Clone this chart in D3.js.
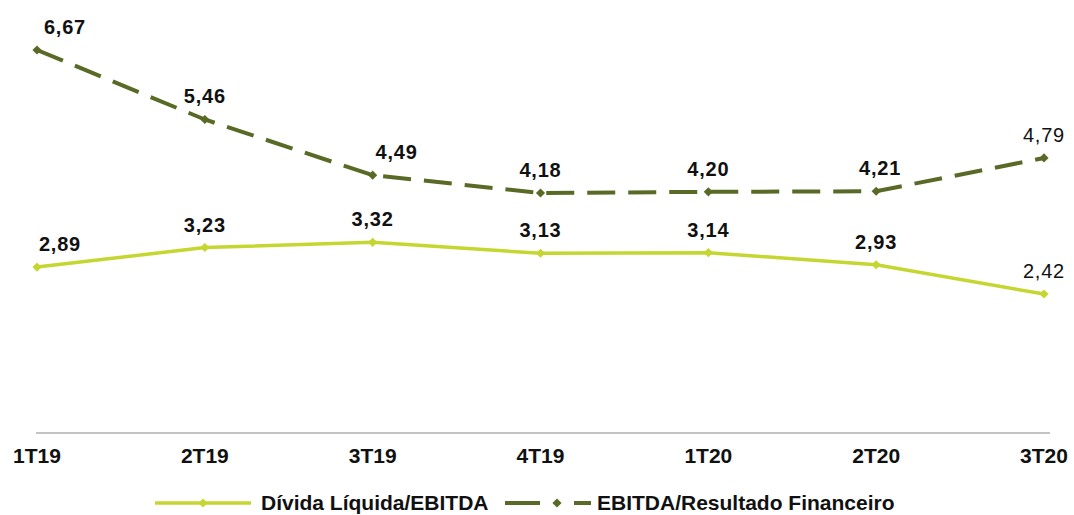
<!DOCTYPE html>
<html>
<head>
<meta charset="utf-8">
<script src="https://cdn.jsdelivr.net/npm/d3@7"></script>
<style>
  body { margin: 0; background: #fff; }
  svg { display: block; font-family: "Liberation Sans", Arial, sans-serif; }
</style>
</head>
<body>
<div id="chart"></div>
<script>
// data
var quarters = ["1T19", "2T19", "3T19", "4T19", "1T20", "2T20", "3T20"];
var dividaEbitda = [2.89, 3.23, 3.32, 3.13, 3.14, 2.93, 2.42];
var ebitdaResultado = [6.67, 5.46, 4.49, 4.18, 4.20, 4.21, 4.79];
var seriesNames = ["Dívida Líquida/EBITDA", "EBITDA/Resultado Financeiro"];

var width = 1074, height = 515;
var lightColor = "#c5d631", darkColor = "#596a26";

var svg = d3.select("#chart").append("svg")
    .attr("width", width)
    .attr("height", height);

var x = d3.scalePoint().domain(quarters).range([37, 1044]);
var y = d3.scaleLinear().domain([0, 6.67]).range([433, 50]);

var diamond = d3.symbol().type(d3.symbolSquare).size(42);

// axis line
svg.append("line")
    .attr("x1", 36).attr("x2", 1050)
    .attr("y1", y(0)).attr("y2", y(0))
    .attr("stroke", "#888").attr("stroke-width", 1.2);

// x labels
svg.append("g").selectAll("text").data(quarters).enter().append("text")
    .attr("x", function(d) { return x(d); })
    .attr("y", 463)
    .attr("text-anchor", "middle")
    .style("font-size", "21px")
    .style("font-weight", "bold")
    .attr("fill", "#111")
    .text(function(d) { return d; });

function drawSeries(values, color, dash, sw) {
    var line = d3.line()
        .x(function(d, i) { return x(quarters[i]); })
        .y(function(d) { return y(d); });
    svg.append("path")
        .datum(values)
        .attr("d", line)
        .attr("fill", "none")
        .attr("stroke", color)
        .attr("stroke-width", sw)
        .attr("stroke-dasharray", dash);
    svg.append("g").selectAll("path").data(values).enter().append("path")
        .attr("d", diamond)
        .attr("transform", function(d, i) { return "translate(" + x(quarters[i]) + "," + y(d) + ") rotate(45)"; })
        .attr("fill", color);
}

drawSeries(dividaEbitda, lightColor, null, 3.5);
drawSeries(ebitdaResultado, darkColor, "28,13", 4);

// value labels
function fmt(v) { return v.toFixed(2).replace(".", ","); }
function labels(values, shift) {
    svg.append("g").selectAll("text").data(values).enter().append("text")
        .attr("x", function(d, i) { return x(quarters[i]) + (shift[i] || 0); })
        .attr("y", function(d) { return y(d) - 16; })
        .attr("text-anchor", "middle")
        .style("font-size", "20px")
        .style("letter-spacing", "0.8px")
        .style("font-weight", function(d, i) { return i === values.length - 1 ? "normal" : "bold"; })
        .attr("fill", "#111")
        .text(fmt);
}
labels(dividaEbitda, {0: 23});
labels(ebitdaResultado, {0: 28, 2: 24, 5: 4});

// legend
var lg = svg.append("g");
lg.append("line").attr("x1", 155).attr("x2", 251).attr("y1", 503).attr("y2", 503)
    .attr("stroke", lightColor).attr("stroke-width", 3.5);
lg.append("path").attr("d", diamond)
    .attr("transform", "translate(203,503) rotate(45)").attr("fill", lightColor);
lg.append("text").attr("x", 261).attr("y", 510)
    .style("font-size", "21px").style("font-weight", "bold").attr("fill", "#111")
    .text(seriesNames[0]);
lg.append("line").attr("x1", 505).attr("x2", 540).attr("y1", 503).attr("y2", 503)
    .attr("stroke", darkColor).attr("stroke-width", 4);
lg.append("path").attr("d", diamond)
    .attr("transform", "translate(557,503) rotate(45)").attr("fill", darkColor);
lg.append("line").attr("x1", 574).attr("x2", 591).attr("y1", 503).attr("y2", 503)
    .attr("stroke", darkColor).attr("stroke-width", 4);
lg.append("text").attr("x", 597).attr("y", 510)
    .style("font-size", "21px").style("font-weight", "bold").attr("fill", "#111")
    .text(seriesNames[1]);
</script>
</body>
</html>
